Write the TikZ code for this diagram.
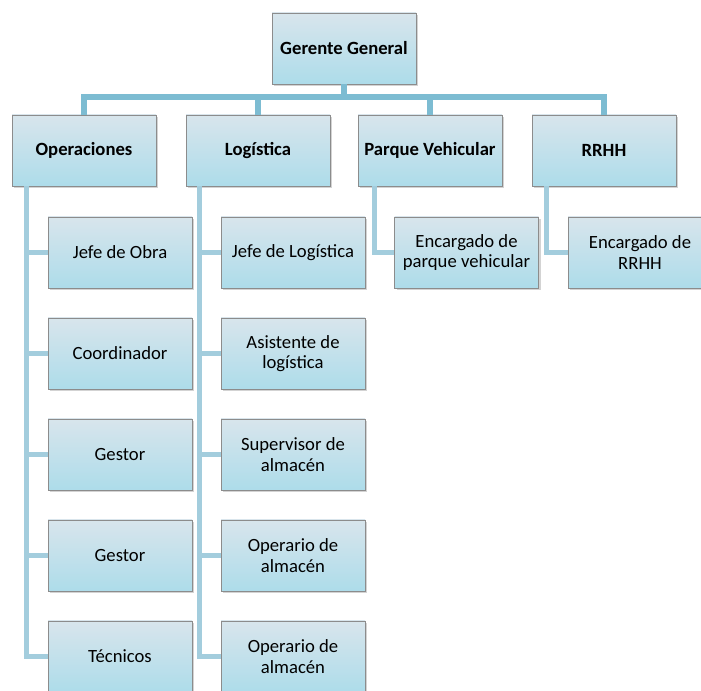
\documentclass[tikz,border=0pt]{standalone}
\usepackage{fontspec}
\setmainfont{Carlito}
\usetikzlibrary{positioning, shadows}
\definecolor{boxtop}{HTML}{D8E5EC}
\definecolor{boxbot}{HTML}{ADDCEA}
\definecolor{boxline}{HTML}{8C8C8C}
\definecolor{linkA}{HTML}{7DBCD2}
\definecolor{linkB}{HTML}{A3CDDD}
\begin{document}
\begin{tikzpicture}[x=0.75pt, y=-0.75pt, font=\fontsize{14}{15.5}\selectfont,
  unit/.style={rectangle, draw=boxline, line width=0.6pt,
               top color=boxtop, bottom color=boxbot,
               minimum width=108pt, minimum height=53.25pt,
               align=center, inner sep=2pt,
               drop shadow={shadow xshift=1.5pt, shadow yshift=-1.5pt, opacity=0.35}},
  head/.style={unit, font=\fontsize{14}{15.5}\selectfont\bfseries},
  link/.style={draw=linkA, line width=4pt},
  sub/.style={draw=linkB, line width=3.8pt}]
\useasboundingbox (0,0) rectangle (701,691);
% level 0 and 1
\node[head] (gg) at (344,48.5) {Gerente General};
\node[head] (op) at (84,150.5)  {Operaciones};
\node[head] (lg) at (258,150.5) {Logística};
\node[head] (pv) at (430,150.5) {Parque Vehicular};
\node[head] (rh) at (604,150.5) {RRHH};
\coordinate (bus) at (344,97);
\draw[link] (gg.south) -- (bus);
\foreach \d in {op,lg,pv,rh}
  \draw[link] (bus) -| (\d.north);
% operaciones
\foreach \n/\t/\y in {jo/{Jefe de Obra}/252.5, co/Coordinador/353.5,
    g1/Gestor/454.5, g2/Gestor/555.5, tc/Técnicos/656.5}{
  \node[unit] (\n) at (120,\y) {\t};
  \draw[sub] ([xshift=11.25pt]op.south west) |- (\n.west);
}
% logistica
\foreach \n/\t/\y in {jl/{Jefe de Logística}/252.5, al/{Asistente de\\logística}/353.5,
    sa/{Supervisor de\\almacén}/454.5, o1/{Operario de\\almacén}/555.5,
    o2/{Operario de\\almacén}/656.5}{
  \node[unit] (\n) at (293,\y) {\t};
  \draw[sub] ([xshift=10.5pt]lg.south west) |- (\n.west);
}
% parque vehicular y rrhh
\node[unit] (ep) at (466.5,252.5) {Encargado de\\parque vehicular};
\draw[sub] ([xshift=12.75pt]pv.south west) |- (ep.west);
\node[unit] (er) at (640,252.5) {Encargado de\\RRHH};
\draw[sub] ([xshift=11.25pt]rh.south west) |- (er.west);
\end{tikzpicture}
\end{document}
